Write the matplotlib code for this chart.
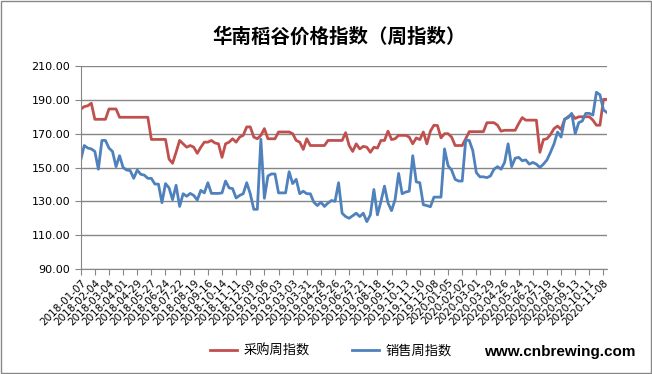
import matplotlib.pyplot as plt
from matplotlib.patches import Rectangle

plt.rcParams['font.family'] = ['Noto Sans CJK SC', 'DejaVu Sans']

# weekly index values, 2018-01-07 .. 2020-11-15
purchase = [184.4, 186, 186.5, 188, 178.5, 178.5, 178.5, 178.5, 184.6, 184.6,
            184.6, 179.7, 179.7, 179.7, 179.7, 179.7, 179.7, 179.7, 179.7, 179.7,
            166.6, 166.6, 166.6, 166.6, 166.6, 155, 152.5, 159, 166, 164,
            162, 163, 162, 158.4, 162, 165, 165, 166, 164.5, 164,
            156, 164, 165, 167, 165, 168, 169, 174, 174, 168,
            167, 169, 173, 167, 167, 167, 171, 171, 171, 171,
            170, 166, 165, 160.7, 167, 163, 163, 163, 163, 163,
            166, 166, 166, 166, 166, 170.6, 163, 159.5, 164, 161,
            162.5, 162, 159, 162, 161.5, 166, 166, 171.5, 166.5, 167,
            169, 169, 169, 168, 164, 167.5, 166.5, 171, 164, 171.5,
            175, 174.8, 167.5, 170, 170, 168, 163, 163, 163, 167,
            171.2, 171.2, 171.2, 171.2, 171.2, 176.5, 176.5, 176.5, 175, 171.5,
            172, 172, 172, 172, 176, 179.5, 178, 178, 178, 178,
            159, 166.5, 167, 169.5, 173, 174.5, 172.5, 178.5, 180, 181.5,
            179, 180, 180, 180, 180, 178, 175, 175, 190.3, 190.3]

sales = [154.4, 163, 161.5, 161, 159.5, 149, 166, 166, 161.5, 159.5,
         150.5, 157, 150, 148.5, 148.2, 143.6, 148.5, 146, 145.5, 143.6,
         143.6, 140.2, 140.2, 129.2, 140.5, 138, 131, 139.5, 127, 134.5,
         133, 134.7, 133.5, 130.8, 136.5, 135, 141, 134.7, 134.7, 134.7,
         135, 142, 138, 137.5, 132, 133.5, 134.5, 141, 134.5, 125.3,
         125.3, 166.7, 131.8, 145, 146.2, 146.2, 135, 135, 135, 147.5,
         140.5, 143, 134.5, 136, 134.5, 134.5, 129.5, 127.5, 129.5, 127,
         129, 130.5, 130, 141, 123, 121, 120, 121.5, 123, 121,
         123, 118, 122, 137, 122, 130, 139, 129, 124.5, 131,
         146.5, 134.5, 135.5, 136, 157, 141.5, 141, 128, 127.5, 126.8,
         132.5, 132.5, 132.5, 161, 151, 148.5, 143, 142, 142, 166.3,
         166, 160, 147, 144.5, 144.5, 144, 145, 149, 150.5, 149,
         153, 164, 150.5, 155.5, 156, 154, 154.5, 152, 153, 152,
         150, 152, 154.5, 159, 164, 171, 168, 178.5, 179.5, 182,
         170, 176.5, 177.5, 182, 182, 181, 194.5, 193, 184, 182.5]

tick_labels = ['2018-01-07', '2018-02-04', '2018-03-04', '2018-04-01', '2018-04-29',
               '2018-05-27', '2018-06-24', '2018-07-22', '2018-08-19', '2018-09-16',
               '2018-10-14', '2018-11-11', '2018-12-09', '2019-01-06', '2019-02-03',
               '2019-03-03', '2019-03-31', '2019-04-28', '2019-05-26', '2019-06-23',
               '2019-07-21', '2019-08-18', '2019-09-15', '2019-10-13', '2019-11-10',
               '2019-12-08', '2020-01-05', '2020-02-02', '2020-03-01', '2020-03-29',
               '2020-04-26', '2020-05-24', '2020-06-21', '2020-07-19', '2020-08-16',
               '2020-09-13', '2020-10-11', '2020-11-08']

fig = plt.figure(figsize=(6.52, 3.74), dpi=100)
ax = fig.add_axes([0.1238, 0.2807, 0.8072, 0.5428])

weeks = range(len(purchase))
ax.plot(weeks, purchase, color='#C0504D', linewidth=2.0, label='采购周指数')
ax.plot(weeks, sales, color='#4F81BD', linewidth=2.0, label='销售周指数')

ax.set_xlim(0, len(purchase) - 1)
ax.set_ylim(90, 210)
ax.set_yticks(range(90, 211, 20))
ax.set_yticklabels(['%.2f' % v for v in range(90, 211, 20)],
                   fontsize=8, family='DejaVu Sans')
ax.set_xticks(range(0, 4 * len(tick_labels), 4))
ax.set_xticklabels(tick_labels, rotation=45, ha='right', va='top',
                   rotation_mode='anchor', fontsize=7.5, family='DejaVu Sans')

ax.grid(axis='y', color='#868686', linewidth=1.0)
ax.set_axisbelow(True)
for s in ['top', 'right']:
    ax.spines[s].set_visible(False)
for s in ['left', 'bottom']:
    ax.spines[s].set_color('#868686')
ax.tick_params(axis='both', colors='#868686', length=4, width=0.8, labelcolor='black')
ax.tick_params(axis='x', pad=2)

fig.text(0.52, 0.90, '华南稻谷价格指数（周指数）', ha='center', va='center',
         fontsize=14, fontweight='bold')

ax.legend(loc='center', bbox_to_anchor=(0.507, 0.061), bbox_transform=fig.transFigure,
          ncol=2, frameon=False, fontsize=9.5, handlelength=2.1, columnspacing=3.2,
          handletextpad=0.45, borderpad=0)

fig.text(0.743, 0.058, 'www.cnbrewing.com', ha='left', va='center',
         fontsize=11, fontweight='bold', family='Liberation Sans')

fig.patches.append(Rectangle((0.002, 0.003), 0.996, 0.994, transform=fig.transFigure,
                             fill=False, edgecolor='#888888', linewidth=1.0))

fig.savefig('out.png', dpi=100)
